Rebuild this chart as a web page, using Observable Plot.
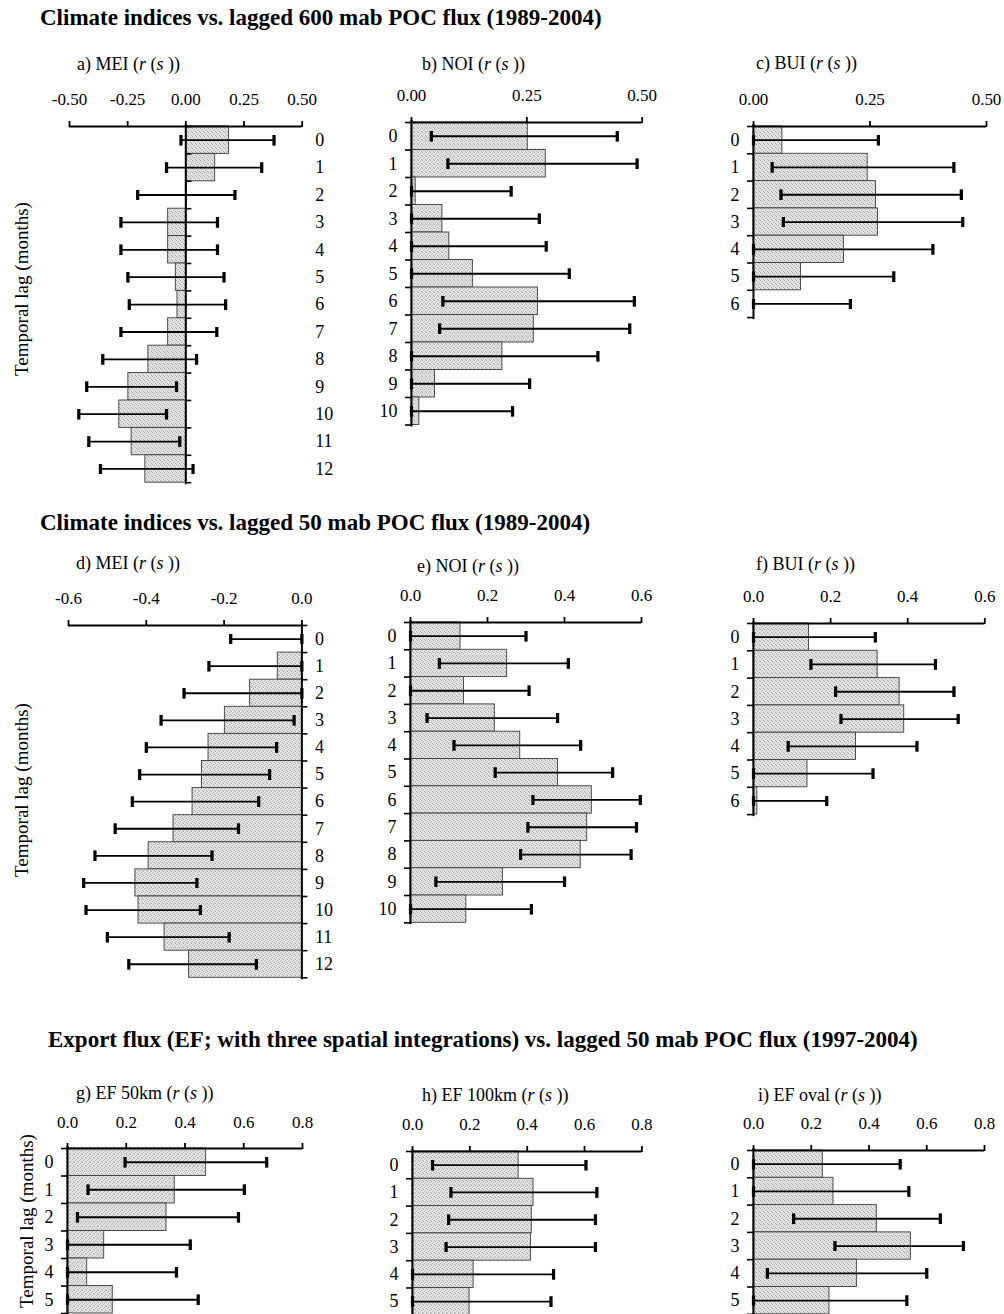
<!DOCTYPE html>
<html>
<head>
<meta charset="utf-8">
<script src="https://cdn.jsdelivr.net/npm/d3@7"></script>
<script src="https://cdn.jsdelivr.net/npm/@observablehq/plot@0.6"></script>
<style>
  body { margin: 0; background: #fff; }
  #page { position: relative; width: 1004px; height: 1314px; overflow: hidden;
          font-family: "Liberation Serif", "Times New Roman", serif; color: #000; }
  .section { position: absolute; font-weight: bold; font-size: 23px; line-height: 26px; white-space: nowrap; }
  .ptitle { position: absolute; font-size: 18px; line-height: 20px; white-space: nowrap; }
  .ylab { position: absolute; width: 240px; text-align: center; font-size: 19px; line-height: 22px;
          white-space: nowrap; transform: rotate(-90deg); transform-origin: 50% 50%; }
  .panel { position: absolute; }
</style>
</head>
<body>
<svg width="0" height="0" style="position:absolute">
  <defs>
    <pattern id="stipple" width="4" height="4" patternUnits="userSpaceOnUse">
      <rect width="4" height="4" fill="#e2e2e2"></rect>
      <rect x="0" y="0" width="1" height="1" fill="#a6a6a6"></rect>
      <rect x="2" y="1" width="1" height="1" fill="#b4b4b4"></rect>
      <rect x="3" y="3" width="1" height="1" fill="#aaaaaa"></rect>
      <rect x="1" y="2" width="1" height="1" fill="#c2c2c2"></rect>
    </pattern>
  </defs>
</svg>
<div id="page"></div>
<script>
// Spearman rank correlations r(s) with their confidence bounds, by temporal lag (months)

const lags13 = [0, 1, 2, 3, 4, 5, 6, 7, 8, 9, 10, 11, 12];
const lags11 = [0, 1, 2, 3, 4, 5, 6, 7, 8, 9, 10];
const lags7  = [0, 1, 2, 3, 4, 5, 6];
const lags6  = [0, 1, 2, 3, 4, 5];

// a) MEI vs. 600 mab POC flux
const mei600R  = [0.186, 0.126, 0.004, -0.076, -0.076, -0.043, -0.036, -0.076, -0.161, -0.247, -0.286, -0.233, -0.174];
const mei600Lo = [-0.021, -0.083, -0.207, -0.279, -0.279, -0.249, -0.243, -0.279, -0.357, -0.426, -0.460, -0.417, -0.367];
const mei600Hi = [0.379, 0.326, 0.211, 0.136, 0.136, 0.164, 0.171, 0.133, 0.046, -0.040, -0.083, -0.026, 0.031];

// b) NOI vs. 600 mab POC flux
const noi600R  = [0.252, 0.291, 0.009, 0.067, 0.082, 0.133, 0.274, 0.265, 0.197, 0.051, 0.017];
const noi600Lo = [0.043, 0.079, 0, 0, 0, 0, 0.068, 0.061, 0, 0, 0];
const noi600Hi = [0.446, 0.489, 0.216, 0.277, 0.292, 0.342, 0.483, 0.473, 0.404, 0.256, 0.219];

// c) BUI vs. 600 mab POC flux
const bui600R  = [0.062, 0.245, 0.263, 0.267, 0.194, 0.102, 0];
const bui600Lo = [0, 0.040, 0.059, 0.064, 0, 0, 0];
const bui600Hi = [0.268, 0.430, 0.446, 0.449, 0.385, 0.301, 0.208];

// d) MEI vs. 50 mab POC flux
const mei50R  = [0, -0.062, -0.133, -0.198, -0.240, -0.257, -0.281, -0.330, -0.394, -0.428, -0.420, -0.353, -0.290];
const mei50Lo = [-0.183, -0.239, -0.303, -0.362, -0.400, -0.417, -0.436, -0.480, -0.532, -0.561, -0.555, -0.500, -0.445];
const mei50Hi = [0, 0, 0, -0.020, -0.065, -0.083, -0.111, -0.163, -0.231, -0.270, -0.261, -0.187, -0.117];

// e) NOI vs. 50 mab POC flux
const noi50R  = [0.130, 0.251, 0.139, 0.219, 0.285, 0.383, 0.471, 0.459, 0.442, 0.240, 0.145];
const noi50Lo = [0, 0.075, 0, 0.043, 0.113, 0.220, 0.318, 0.305, 0.286, 0.066, 0];
const noi50Hi = [0.300, 0.410, 0.308, 0.382, 0.442, 0.525, 0.597, 0.587, 0.573, 0.400, 0.314];

// f) BUI vs. 50 mab POC flux
const bui50R  = [0.144, 0.322, 0.379, 0.391, 0.266, 0.140, 0.010];
const bui50Lo = [0, 0.149, 0.213, 0.227, 0.090, 0, 0];
const bui50Hi = [0.316, 0.472, 0.520, 0.531, 0.424, 0.310, 0.190];

// g) EF 50 km vs. 50 mab POC flux
const ef50R  = [0.472, 0.365, 0.337, 0.125, 0.067, 0.154];
const ef50Lo = [0.196, 0.070, 0.034, 0, 0, 0];
const ef50Hi = [0.678, 0.602, 0.582, 0.418, 0.371, 0.445];

// h) EF 100 km vs. 50 mab POC flux
const ef100R  = [0.370, 0.422, 0.416, 0.413, 0.213, 0.199];
const ef100Lo = [0.070, 0.134, 0.126, 0.117, 0, 0];
const ef100Hi = [0.605, 0.643, 0.638, 0.638, 0.492, 0.483];

// i) EF oval vs. 50 mab POC flux
const efOvalR  = [0.240, 0.277, 0.427, 0.545, 0.358, 0.263];
const efOvalLo = [0, 0, 0.139, 0.282, 0.048, 0];
const efOvalHi = [0.508, 0.538, 0.647, 0.727, 0.600, 0.531];

// axis tick values
const ticksHalfSym = [-0.5, -0.25, 0, 0.25, 0.5];
const ticksHalf    = [0, 0.25, 0.5];
const ticksNeg06   = [-0.6, -0.4, -0.2, 0];
const ticks06      = [0, 0.2, 0.4, 0.6];
const ticks08      = [0, 0.2, 0.4, 0.6, 0.8];

// section headings
const sectionTitles = [
  "Climate indices vs. lagged 600 mab POC flux (1989-2004)",
  "Climate indices vs. lagged 50 mab POC flux (1989-2004)",
  "Export flux (EF; with three spatial integrations) vs. lagged 50 mab POC flux (1997-2004)"
];
const yTitle = "Temporal lag (months)";

const page = document.getElementById("page");

function addDiv(cls, html, left, top) {
  const d = document.createElement("div");
  d.className = cls;
  d.innerHTML = html;
  d.style.left = left + "px";
  d.style.top = top + "px";
  page.appendChild(d);
  return d;
}

// One horizontal bar panel: bars from 0 to r(s), error bars lo..hi, axis on top.
function panel(p) {
  const n = p.lags.length;
  const rows = p.lags.map((lag, i) => ({lag, r: p.r[i], lo: p.lo[i], hi: p.hi[i]}));
  const bounds = [...p.lags, n];
  const mL = 45, mR = 45, mT = 50, mB = 8;
  const W = (p.x1 - p.x0) + mL + mR;
  const H = mT + n * p.rowH + mB;
  const labelsRight = p.labels === "right";

  const svg = Plot.plot({
    width: W,
    height: H,
    marginLeft: mL,
    marginRight: mR,
    marginTop: mT,
    marginBottom: mB,
    x: {domain: p.domain},
    y: {domain: [0, n], reverse: true, axis: null},
    style: {
      fontFamily: "'Liberation Serif', 'Times New Roman', serif",
      fontSize: "17px",
      color: "#000",
      background: "transparent",
      overflow: "visible"
    },
    marks: [
      Plot.rect(rows, {
        x1: 0, x2: "r",
        y1: "lag", y2: d => d.lag + 1,
        fill: "url(#stipple)", stroke: "#3c3c3c", strokeWidth: 0.9
      }),
      Plot.link(rows, {
        x1: "lo", x2: "hi",
        y1: d => d.lag + 0.5, y2: d => d.lag + 0.5,
        stroke: "#000", strokeWidth: 1.8,
        markerStart: "tick", markerEnd: "tick"
      }),
      // vertical axis through zero with ticks at row boundaries
      Plot.ruleX([0], {stroke: "#000", strokeWidth: 2, insetTop: -2, insetBottom: -2}),
      Plot.ruleY(bounds, {
        y: d => d, x1: 0, x2: 0,
        insetLeft: p.yTicks === "left" ? -6 : 0,
        insetRight: p.yTicks === "right" ? -6 : 0,
        stroke: "#000", strokeWidth: 1.6
      }),
      // top axis
      Plot.ruleY([0], {stroke: "#000", strokeWidth: 2}),
      Plot.axisX({
        anchor: "top",
        ticks: p.ticks,
        tickFormat: d => d.toFixed(p.digits),
        tickSize: 6,
        tickPadding: 15,
        strokeWidth: 1.8,
        fontSize: 17,
        label: null
      }),
      Plot.text(p.lags, {
        y: d => d + 0.5,
        text: d => String(d),
        frameAnchor: labelsRight ? "right" : "left",
        textAnchor: labelsRight ? "start" : "end",
        dx: labelsRight ? 13 : -14,
        fontSize: 18
      })
    ]
  });
  svg.classList.add("panel");
  svg.style.left = (p.x0 - mL) + "px";
  svg.style.top = (p.yTop - mT) + "px";
  page.appendChild(svg);

  addDiv("ptitle", p.title, p.titleX, p.titleY - 10);
}

const rs = "(<i>r</i> (<i>s</i> ))";

// --- section 1 ---
addDiv("section", sectionTitles[0], 40, 5);
panel({title: "a) MEI " + rs, titleX: 77, titleY: 64, lags: lags13, r: mei600R, lo: mei600Lo, hi: mei600Hi,
       domain: [-0.5, 0.5], ticks: ticksHalfSym, digits: 2, x0: 69, x1: 301.7, yTop: 126, rowH: 27.4,
       labels: "right", yTicks: "right"});
panel({title: "b) NOI " + rs, titleX: 422, titleY: 64, lags: lags11, r: noi600R, lo: noi600Lo, hi: noi600Hi,
       domain: [0, 0.5], ticks: ticksHalf, digits: 2, x0: 411, x1: 641.7, yTop: 121.7, rowH: 27.5,
       labels: "left", yTicks: "left"});
panel({title: "c) BUI " + rs, titleX: 756, titleY: 63, lags: lags7, r: bui600R, lo: bui600Lo, hi: bui600Hi,
       domain: [0, 0.5], ticks: ticksHalf, digits: 2, x0: 753, x1: 986, yTop: 126, rowH: 27.3,
       labels: "left", yTicks: "left"});
addDiv("ylab", yTitle, 22 - 120, 289 - 11);

// --- section 2 ---
addDiv("section", sectionTitles[1], 40, 510);
panel({title: "d) MEI " + rs, titleX: 76, titleY: 563, lags: lags13, r: mei50R, lo: mei50Lo, hi: mei50Hi,
       domain: [-0.6, 0], ticks: ticksNeg06, digits: 1, x0: 68.3, x1: 301.7, yTop: 625, rowH: 27.1,
       labels: "right", yTicks: "right"});
panel({title: "e) NOI " + rs, titleX: 417, titleY: 566, lags: lags11, r: noi50R, lo: noi50Lo, hi: noi50Hi,
       domain: [0, 0.6], ticks: ticks06, digits: 1, x0: 410, x1: 641, yTop: 621.7, rowH: 27.3,
       labels: "left", yTicks: "left"});
panel({title: "f) BUI " + rs, titleX: 756, titleY: 564, lags: lags7, r: bui50R, lo: bui50Lo, hi: bui50Hi,
       domain: [0, 0.6], ticks: ticks06, digits: 1, x0: 752.7, x1: 984, yTop: 622.7, rowH: 27.3,
       labels: "left", yTicks: "left"});
addDiv("ylab", yTitle, 22 - 120, 790 - 11);

// --- section 3 ---
addDiv("section", sectionTitles[2], 48, 1027);
panel({title: "g) EF 50km " + rs, titleX: 76, titleY: 1093, lags: lags6, r: ef50R, lo: ef50Lo, hi: ef50Hi,
       domain: [0, 0.8], ticks: ticks08, digits: 1, x0: 66.7, x1: 301.7, yTop: 1148, rowH: 27.5,
       labels: "left", yTicks: "left"});
panel({title: "h) EF 100km " + rs, titleX: 422, titleY: 1095, lags: lags6, r: ef100R, lo: ef100Lo, hi: ef100Hi,
       domain: [0, 0.8], ticks: ticks08, digits: 1, x0: 412.3, x1: 641.7, yTop: 1150.7, rowH: 27.3,
       labels: "left", yTicks: "left"});
panel({title: "i) EF oval " + rs, titleX: 758, titleY: 1095, lags: lags6, r: efOvalR, lo: efOvalLo, hi: efOvalHi,
       domain: [0, 0.8], ticks: ticks08, digits: 1, x0: 753.3, x1: 984.3, yTop: 1150, rowH: 27.3,
       labels: "left", yTicks: "left"});
addDiv("ylab", yTitle, 27 - 120, 1221 - 11);
</script>
</body>
</html>
